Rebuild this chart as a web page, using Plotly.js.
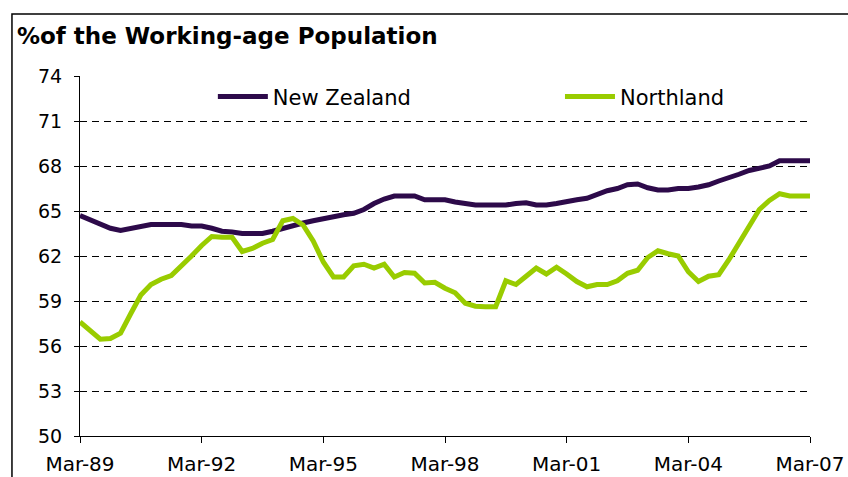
<!DOCTYPE html>
<html>
<head>
<meta charset="utf-8">
<script src="https://cdn.plot.ly/plotly-3.0.1.min.js"></script>
<style>html,body{margin:0;padding:0;background:#fff;}#chart{width:848px;height:477px;}</style>
</head>
<body>
<div id="chart"></div>
<script>
// Quarter labels Mar-89 ... Mar-07
const years = ['89','90','91','92','93','94','95','96','97','98','99','00','01','02','03','04','05','06','07'];
const months = ['Mar','Jun','Sep','Dec'];
const quarters = [];
years.forEach(function (y, yi) {
  months.forEach(function (m) {
    if (yi === years.length - 1 && m !== 'Mar') return;
    quarters.push(m + '-' + y);
  });
});

const tickLabels = ['Mar-89','Mar-92','Mar-95','Mar-98','Mar-01','Mar-04','Mar-07'];

const newZealand = [
  64.7, 64.4, 64.1, 63.85, 63.7, 63.85, 64.0, 64.1, 64.1, 64.1, 64.1, 64.0,
  64.0, 63.85, 63.65, 63.6, 63.5, 63.5, 63.5, 63.65, 63.85, 64.0, 64.2, 64.35,
  64.5, 64.6, 64.75, 64.85, 65.1, 65.5, 65.8, 66.0, 66.0, 66.0, 65.75, 65.75,
  65.75, 65.6, 65.5, 65.4, 65.4, 65.4, 65.4, 65.5, 65.55, 65.4, 65.4, 65.5,
  65.65, 65.75, 65.85, 66.1, 66.35, 66.5, 66.75, 66.8, 66.55, 66.4, 66.4, 66.5,
  66.5, 66.6, 66.75, 67.0, 67.2, 67.45, 67.7, 67.85, 68.0, 68.35, 68.35, 68.35,
  68.35
];

const northland = [
  57.6, 57.0, 56.45, 56.5, 56.85, 58.15, 59.4, 60.1, 60.45, 60.7, 61.3, 62.0,
  62.7, 63.3, 63.25, 63.25, 62.3, 62.5, 62.85, 63.1, 64.35, 64.5, 64.07, 63.0,
  61.6, 60.6, 60.6, 61.35, 61.45, 61.2, 61.45, 60.6, 60.9, 60.85, 60.2, 60.25,
  59.85, 59.55, 58.85, 58.65, 58.62, 58.62, 60.35, 60.1, 60.65, 61.2, 60.8, 61.25,
  60.8, 60.3, 59.95, 60.1, 60.1, 60.35, 60.85, 61.05, 61.9, 62.35, 62.15, 62.0,
  60.95, 60.3, 60.65, 60.75, 61.75, 62.85, 63.85, 65.1, 65.7, 66.15, 66.0, 66.0,
  66.0
];

const FONT = 'DejaVu Sans, Verdana, sans-serif';

const traces = [
  {
    x: quarters, y: newZealand, name: 'New Zealand', type: 'scatter', mode: 'lines',
    line: {color: '#2D0A4A', width: 5}, legend: 'legend'
  },
  {
    x: quarters, y: northland, name: 'Northland', type: 'scatter', mode: 'lines',
    line: {color: '#99CC00', width: 5}, legend: 'legend2'
  }
];

const legendBase = {
  orientation: 'h', xanchor: 'left', y: 0.942, yanchor: 'middle',
  font: {family: FONT, size: 21, color: '#000'},
  bgcolor: 'rgba(255,255,255,0)', itemwidth: 50
};

const layout = {
  width: 848, height: 477,
  margin: {l: 80, r: 38, t: 76, b: 41},
  paper_bgcolor: '#fff', plot_bgcolor: '#fff',
  font: {family: FONT, color: '#000'},
  title: {
    text: '<b>%of the Working-age Population</b>',
    font: {family: FONT, size: 23, color: '#000'},
    xref: 'container', x: 0.02, xanchor: 'left',
    yref: 'container', y: 0.924, yanchor: 'middle',
    automargin: false
  },
  xaxis: {
    type: 'category',
    range: [0, quarters.length - 1],
    tickmode: 'array', tickvals: tickLabels, ticktext: tickLabels,
    ticks: 'outside', ticklen: 6, tickcolor: '#000', tickwidth: 1,
    showline: true, linecolor: '#000', linewidth: 1,
    showgrid: false, zeroline: false,
    tickfont: {family: FONT, size: 20, color: '#000'},
    ticklabelstandoff: 4,
    fixedrange: true
  },
  yaxis: {
    range: [50, 74], dtick: 3, tick0: 50,
    ticks: 'outside', ticklen: 5, tickcolor: '#000', tickwidth: 1,
    showline: true, linecolor: '#000', linewidth: 1,
    showgrid: true, gridcolor: '#000', gridwidth: 1, griddash: '7px,5px',
    zeroline: false,
    tickfont: {family: FONT, size: 19, color: '#000'},
    ticklabelstandoff: 8,
    fixedrange: true
  },
  legend: Object.assign({}, legendBase, {x: 0.182}),
  legend2: Object.assign({}, legendBase, {x: 0.6575}),
  shapes: [
    {type: 'rect', xref: 'paper', yref: 'paper', x0: -0.0932, x1: 1.2, y0: -0.3, y1: 1.1722,
     line: {color: '#000', width: 1.5}, fillcolor: 'rgba(0,0,0,0)', layer: 'below'}
  ],
  showlegend: true
};

Plotly.newPlot('chart', traces, layout, {displayModeBar: false, staticPlot: true});
</script>
</body>
</html>
